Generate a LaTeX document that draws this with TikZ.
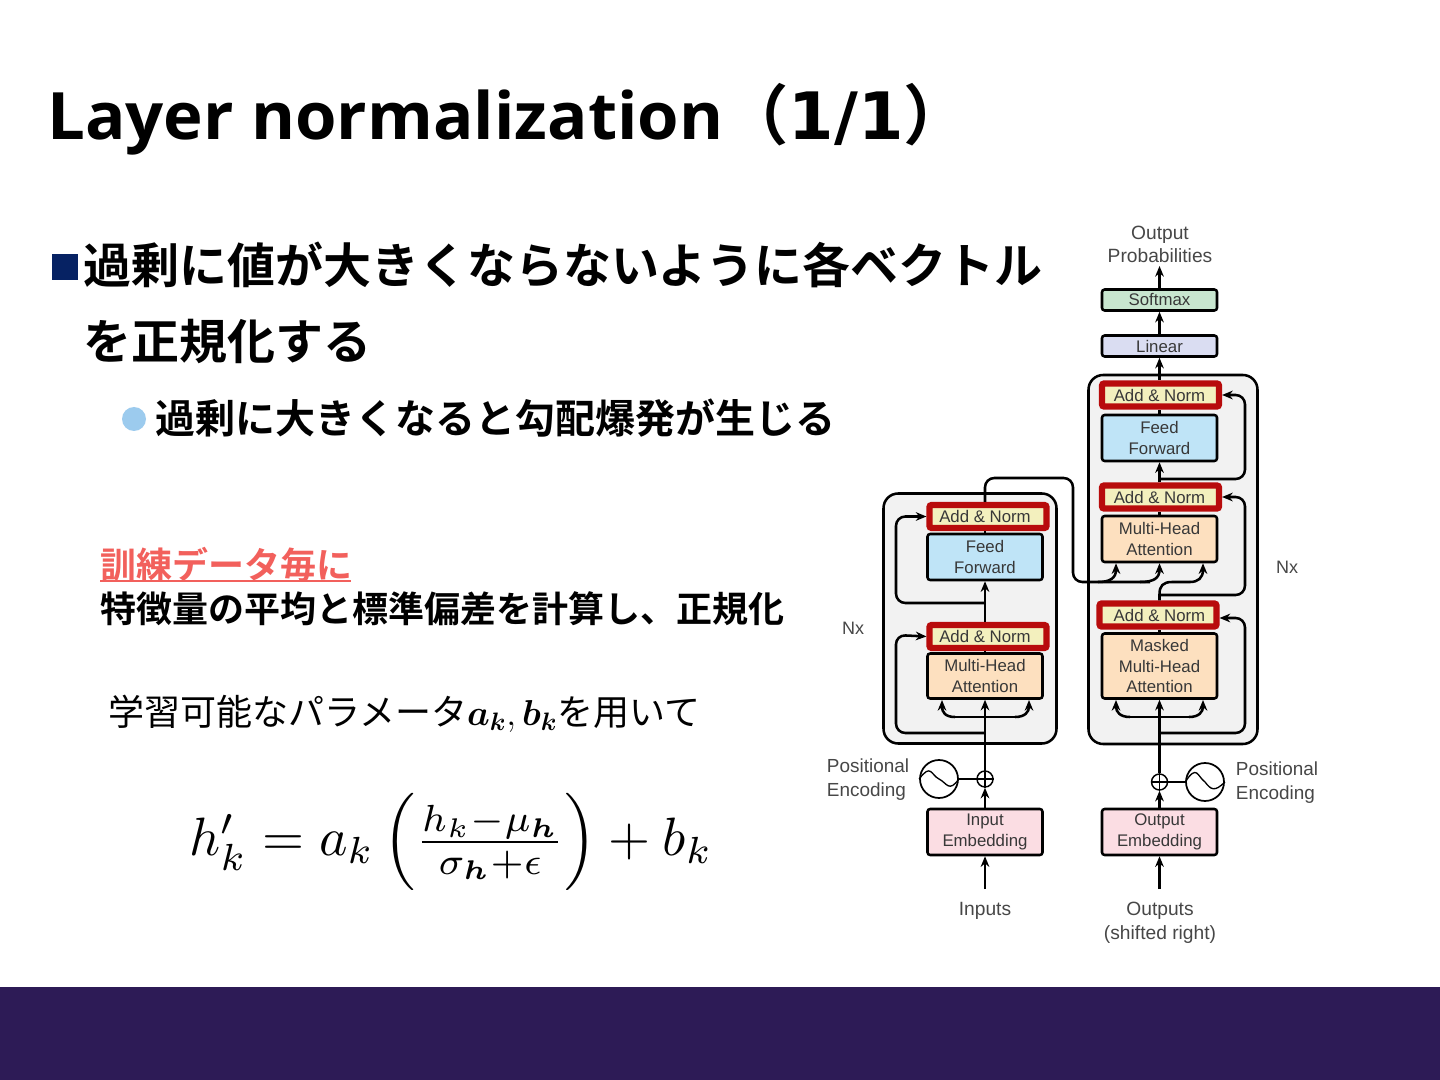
\RequirePackage{fix-cm}
\documentclass[tikz,border=0pt]{standalone}
\usepackage{amsmath}
\usepackage{fontspec}
\setmainfont{Liberation Sans}
\newfontfamily\jp{Noto Sans CJK JP}
\newfontfamily\jpb{Noto Sans CJK JP Bold}
\newfontfamily\ttl[FakeStretch=1.027]{Open Sans}
\newfontfamily\dv{DejaVu Sans}
\usetikzlibrary{arrows.meta}
\definecolor{bar}{HTML}{2D1B56}
\definecolor{navy}{HTML}{062263}
\definecolor{lblue}{HTML}{9CCBEE}
\definecolor{salmon}{HTML}{F2605C}
\definecolor{panel}{HTML}{F2F2F2}
\definecolor{cgreen}{HTML}{C8E6CF}
\definecolor{cviolet}{HTML}{DADDF2}
\definecolor{cyellow}{HTML}{F3F0BE}
\definecolor{cblue}{HTML}{BFE4F7}
\definecolor{corange}{HTML}{FDE0BF}
\definecolor{cpink}{HTML}{FBDDE3}
\definecolor{cred}{HTML}{B80C0C}
\tikzset{
  x=0.75pt,y=-0.75pt,
  wh/.style 2 args={minimum width=#1*0.75pt,minimum height=#2*0.75pt},
  box/.style={draw=black,line width=1.9pt,rounded corners=2pt,inner sep=0pt,align=center,
    text=black!78,font=\fontsize{12.6}{15.6}\selectfont},
  addnorm/.style={box,draw=cred,fill=cyellow,line width=4.6pt,rounded corners=1.5pt,wh={117}{23}},
  panelbox/.style={draw=black,fill=panel,line width=1.9pt,rounded corners=11pt,inner sep=0pt},
  lab/.style={inner sep=0pt,align=center,text=black!72,font=\fontsize{14.4}{17.6}\selectfont},
  conn/.style={line width=1.9pt,draw=black,line cap=butt},
  arr/.style={conn,-{Stealth[length=8pt,width=6.5pt]}},
  rc/.style={rounded corners=7pt},
  sumc/.style={circle,draw=black,fill=white,line width=1.1pt,minimum size=12pt,inner sep=0pt},
  sinec/.style={circle,draw=black,fill=white,line width=1.3pt,minimum size=28.5pt,inner sep=0pt},
  txt/.style={inner sep=0pt,anchor=base west},
}
\begin{document}
\begin{tikzpicture}
\useasboundingbox (0,0) rectangle (1440,1080);
\fill[white] (0,0) rectangle (1440,1080);
\fill[bar] (0,987) rectangle (1440,1080);

% texts
\node[txt] (title) at (47,140) {\fontsize{49}{58}\selectfont{\ttl\bfseries Layer normalization}{\jpb （}{\dv\bfseries 1/1}{\jpb ）}};
\fill[navy] (52,254) rectangle (78,280);
\node[txt] (t1) at (83,284) {\jpb\fontsize{36}{44}\selectfont 過剰に値が大きくならないように各ベクトル};
\node[txt] (t2) at (83,360) {\jpb\fontsize{36}{44}\selectfont を正規化する};
\fill[lblue] (134,419) circle (12);
\node[txt] (t3) at (155,434) {\jpb\fontsize{30}{36}\selectfont 過剰に大きくなると勾配爆発が生じる};
\node[txt,text=salmon] (t4) at (100,579) {\jpb\fontsize{27}{32}\selectfont 訓練データ毎に};
\draw[salmon,line width=1.5pt] (100,581) -- (351,581);
\node[txt] (t5) at (100,622.5) {\jpb\fontsize{27}{32}\selectfont 特徴量の平均と標準偏差を計算し、正規化};
\node[txt] (t6) at (108,725) {\jp\fontsize{27}{32}\selectfont 学習可能なパラメータ$\boldsymbol{a_k},\boldsymbol{b_k}$を用いて};
\node[inner sep=0pt,anchor=center,scale=4.05] (eq) at (451,842) {$h_k'=a_k\left(\tfrac{h_k-\mu_{\boldsymbol{h}}}{\sigma_{\boldsymbol{h}}+\epsilon}\right)+b_k$};

% panels
\node[panelbox,wh={173}{250}] (pl) at (970,618.5) {};
\node[panelbox,wh={169}{369}] (pr) at (1173,559.5) {};

% boxes, right
\node[box,fill=cgreen,wh={115}{21}] (soft) at (1159.5,300) {Softmax};
\node[box,fill=cviolet,wh={115}{21}] (lin) at (1159.5,346) {Linear};
\node[addnorm] (ran3) at (1160.5,395) {Add \& Norm\hspace*{1.5pt}};
\node[box,fill=cblue,wh={115}{46}] (rff) at (1159.5,438) {Feed\\Forward};
\node[addnorm] (ran2) at (1160.5,497) {Add \& Norm\hspace*{1.5pt}};
\node[box,fill=corange,wh={115}{46}] (rmh) at (1159.5,539) {Multi-Head\\Attention};
\node[addnorm] (ran1) at (1158,615) {\hspace*{2.2pt}Add \& Norm};
\node[box,fill=corange,wh={115}{65}] (rmm) at (1159.5,666) {Masked\\Multi-Head\\Attention};
\node[box,fill=cpink,wh={115}{46}] (rem) at (1159.5,832) {Output\\Embedding};
% boxes, left
\node[addnorm] (lan2) at (988,516.5) {Add \& Norm\hspace*{4.5pt}};
\node[box,fill=cblue,wh={115}{46}] (lff) at (985,557) {Feed\\Forward};
\node[addnorm] (lan1) at (988,636.5) {Add \& Norm\hspace*{4.5pt}};
\node[box,fill=corange,wh={115}{45}] (lmh) at (985,676) {Multi-Head\\Attention};
\node[box,fill=cpink,wh={115}{46}] (lem) at (985,832) {Input\\Embedding};

% sum and sine
\node[sumc] (pL) at (985,779) {};
\node[sumc] (pR) at (1159.5,782) {};
\node[sinec] (sL) at (939,779) {};
\node[sinec] (sR) at (1205,782) {};
\draw[line width=.8pt] (pL.north)--(pL.south) (pL.west)--(pL.east);
\draw[line width=.8pt] (pR.north)--(pR.south) (pR.west)--(pR.east);
\draw[line width=1pt] (sL.west) .. controls +(12,-16) and +(-8,-4) .. (sL.center) .. controls +(8,4) and +(-10,14) .. (sL.east);
\draw[line width=1pt] (sR.west) .. controls +(12,-18) and +(-8,-6) .. (sR.center) .. controls +(6,8) and +(-10,10) .. (sR.east);
\draw[conn] (sL) -- (pL);
\draw[conn,line width=1.3pt] (sR) -- (pR);

% labels
\node[lab] (oprob) at (1160,244.5) {Output\\Probabilities};
\node[lab] (inp) at (985,911) {Inputs};
\node[lab] (outp) at (1160,923) {Outputs\\(shifted right)};
\node[lab,font=\fontsize{14.2}{18}\selectfont,align=left] (peL) at (868,780) {Positional\\Encoding};
\node[lab,font=\fontsize{14.2}{18}\selectfont,align=left] (peR) at (1277,783) {Positional\\Encoding};
\node[lab,font=\fontsize{13.5}{16}\selectfont] (nxL) at (853,628) {Nx};
\node[lab,font=\fontsize{13.5}{16}\selectfont] (nxR) at (1287,567) {Nx};

% free ends
\coordinate (inS) at (985,889);
\coordinate (outS) at (1159.5,889);
\coordinate (oprobS) at (1159.5,266);
\coordinate (lskip1) at (985,733);
\coordinate (lskip2) at (985,603);
\coordinate (rskip1) at (1159.5,733);
\coordinate (rskip2) at (1159.5,595);
\coordinate (rskip3) at (1159.5,479);
\coordinate (lbusL) at (955,717);
\coordinate (lbusR) at (1015,717);
\coordinate (rbusL) at (1130,717);
\coordinate (rbusR) at (1189,717);

% connectors left
\draw[arr] (inS) -- (lem.south);
\draw[arr] (lem.north) -- (pL.south);
\draw[arr] (pL.north) -- (lmh.south);
\draw[conn] (lmh.north) -- (lan1.south -| lmh.north);
\draw[arr] (lan1.north -| lff.south) -- (lff.south);
\draw[conn] (lff.north) -- (lan2.south -| lff.north);
\draw[arr,rc] (lskip1) -| (896,635) -- (lan1.west);
\draw[arr,rc] (lskip2) -| (896,516.5) -- (lan2.west);
\draw[conn] (lbusL) -- (lbusR);
\draw[arr] (lbusL) .. controls (945,717) and (942,712) .. (942,700);
\draw[arr] (lbusR) .. controls (1025,717) and (1029,712) .. (1029,700);

% connectors right
\draw[arr] (outS) -- (rem.south);
\draw[arr] (rem.north) -- (pR.south);
\draw[arr] (pR.north) -- (rmm.south);
\draw[conn] (rmm.north) -- (rmm.north |- ran1.south);
\draw[conn] (rmh.north) -- (rmh.north |- ran2.south);
\draw[arr] (rmh.north |- ran2.north) -- (rff.south);
\draw[conn] (rff.north) -- (rff.north |- ran3.south);
\draw[arr] (lin.south |- ran3.north) -- (lin.south);
\draw[arr] (lin.north) -- (soft.south);
\draw[arr] (soft.north) -- (oprobS);
\draw[arr,rc] (rskip1) -- (1245,733) -- (1245,618) -- (ran1.east |- 0,618);
\draw[arr,rc] (rskip2) -- (1245,595) -- (1245,497) -- (ran2.east);
\draw[arr,rc] (rskip3) -- (1245,479) -- (1245,395) -- (ran3.east);
\draw[conn] (rbusL) -- (rbusR);
\draw[arr] (rbusL) .. controls (1120,717) and (1116,712) .. (1116,700);
\draw[arr] (rbusR) .. controls (1199,717) and (1203,712) .. (1203,700);

% cross connection
\draw[conn,rc] (lan2.north -| lff.north) -- (985,478) -- (1073,478) -- (1073,582) -- (1150,582);
\draw[arr] (1098,582) .. controls (1110,582) and (1116,578) .. (rmh.south -| 1116,0);
\draw[arr] (1140,582) .. controls (1154,582) and (1159.5,578) .. (rmh.south);
\draw[conn] (ran1.north -| rmh.south) -- (1159.5,594) .. controls (1159.5,586) and (1163,582) .. (1172,582) -- (1190,582);
\draw[arr] (1190,582) .. controls (1198,582) and (1203,578) .. (rmh.south -| 1203,0);
\end{tikzpicture}
\end{document}
